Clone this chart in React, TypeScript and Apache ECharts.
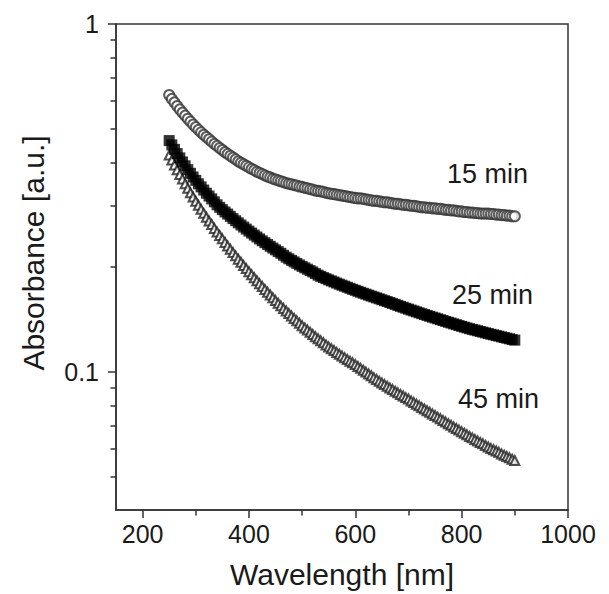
import React, { useEffect, useRef } from "react";
import * as echarts from "echarts";

const wavelength = [
  250, 255, 260, 265, 270, 275, 280, 285, 290, 295,
  300, 305, 310, 315, 320, 325, 330, 335, 340, 345,
  350, 355, 360, 365, 370, 375, 380, 385, 390, 395,
  400, 405, 410, 415, 420, 425, 430, 435, 440, 445,
  450, 455, 460, 465, 470, 475, 480, 485, 490, 495,
  500, 505, 510, 515, 520, 525, 530, 535, 540, 545,
  550, 555, 560, 565, 570, 575, 580, 585, 590, 595,
  600, 605, 610, 615, 620, 625, 630, 635, 640, 645,
  650, 655, 660, 665, 670, 675, 680, 685, 690, 695,
  700, 705, 710, 715, 720, 725, 730, 735, 740, 745,
  750, 755, 760, 765, 770, 775, 780, 785, 790, 795,
  800, 805, 810, 815, 820, 825, 830, 835, 840, 845,
  850, 855, 860, 865, 870, 875, 880, 885, 890, 895,
  900,
];

const abs15min = [
  0.625, 0.609, 0.595, 0.581, 0.568, 0.556, 0.545, 0.534, 0.524, 0.514,
  0.505, 0.496, 0.488, 0.48, 0.473, 0.466, 0.459, 0.452, 0.446, 0.44,
  0.434, 0.428, 0.423, 0.418, 0.413, 0.408, 0.403, 0.399, 0.395, 0.391,
  0.387, 0.383, 0.38, 0.376, 0.373, 0.37, 0.367, 0.364, 0.362, 0.359,
  0.357, 0.355, 0.353, 0.351, 0.349, 0.347, 0.346, 0.344, 0.343, 0.341,
  0.34, 0.338, 0.337, 0.335, 0.334, 0.332, 0.331, 0.33, 0.329, 0.327,
  0.326, 0.325, 0.324, 0.323, 0.322, 0.321, 0.32, 0.319, 0.318, 0.317,
  0.316, 0.315, 0.315, 0.314, 0.313, 0.312, 0.311, 0.31, 0.31, 0.309,
  0.308, 0.307, 0.307, 0.306, 0.305, 0.304, 0.304, 0.303, 0.302, 0.302,
  0.301, 0.3, 0.3, 0.299, 0.298, 0.297, 0.297, 0.296, 0.296, 0.295,
  0.295, 0.294, 0.294, 0.293, 0.292, 0.292, 0.291, 0.291, 0.29, 0.289,
  0.289, 0.288, 0.288, 0.287, 0.287, 0.286, 0.286, 0.285, 0.285, 0.285,
  0.285, 0.284, 0.284, 0.283, 0.283, 0.282, 0.282, 0.281, 0.281, 0.28,
  0.28,
];

const abs25min = [
  0.462, 0.449, 0.436, 0.424, 0.412, 0.401, 0.391, 0.381, 0.372, 0.363,
  0.355, 0.347, 0.34, 0.333, 0.326, 0.32, 0.314, 0.308, 0.302, 0.297,
  0.2925, 0.288, 0.284, 0.2797, 0.2756, 0.2717, 0.268, 0.2642, 0.2606, 0.2571,
  0.2537, 0.2504, 0.2471, 0.244, 0.2409, 0.2379, 0.235, 0.2322, 0.2294, 0.2267,
  0.2241, 0.2215, 0.219, 0.2162, 0.2135, 0.2112, 0.209, 0.2069, 0.2048, 0.2028,
  0.2008, 0.1989, 0.1971, 0.1953, 0.1936, 0.1915, 0.1895, 0.188, 0.1865, 0.1851,
  0.1837, 0.1824, 0.1811, 0.1798, 0.1785, 0.1773, 0.1761, 0.1749, 0.1737, 0.1725,
  0.1714, 0.1703, 0.1692, 0.1681, 0.1671, 0.166, 0.165, 0.164, 0.163, 0.162,
  0.161, 0.16, 0.1591, 0.1581, 0.1571, 0.1561, 0.1551, 0.1541, 0.1532, 0.1522,
  0.1513, 0.1504, 0.1495, 0.1486, 0.1477, 0.1468, 0.146, 0.1451, 0.1443, 0.1435,
  0.1427, 0.1419, 0.1411, 0.1403, 0.1395, 0.1387, 0.138, 0.1372, 0.1365, 0.1357,
  0.135, 0.1343, 0.1336, 0.1329, 0.1323, 0.1317, 0.1311, 0.1305, 0.1299, 0.1293,
  0.1287, 0.1281, 0.1276, 0.127, 0.1265, 0.1259, 0.1254, 0.1248, 0.1243, 0.1237,
  0.1232,
];

const abs45min = [
  0.42, 0.406, 0.393, 0.381, 0.369, 0.358, 0.347, 0.337, 0.327, 0.318,
  0.309, 0.301, 0.293, 0.2853, 0.278, 0.2713, 0.265, 0.2583, 0.252, 0.2463,
  0.241, 0.2354, 0.23, 0.2249, 0.22, 0.2153, 0.2107, 0.2063, 0.202, 0.1979,
  0.1939, 0.19, 0.1863, 0.1826, 0.1791, 0.1757, 0.1724, 0.1692, 0.1661, 0.1631,
  0.1601, 0.1573, 0.1546, 0.152, 0.1495, 0.147, 0.1446, 0.1423, 0.14, 0.1378,
  0.1356, 0.1336, 0.1317, 0.1298, 0.1279, 0.1261, 0.1244, 0.1227, 0.1211, 0.1194,
  0.1178, 0.1164, 0.115, 0.1136, 0.1123, 0.111, 0.1097, 0.1084, 0.1072, 0.106,
  0.1048, 0.1035, 0.1022, 0.1009, 0.0997, 0.0985, 0.0973, 0.0961, 0.095, 0.0939,
  0.0928, 0.0918, 0.0908, 0.0898, 0.0888, 0.0878, 0.0869, 0.086, 0.0851, 0.0842,
  0.0834, 0.0824, 0.0815, 0.0806, 0.0798, 0.0789, 0.0781, 0.0772, 0.0764, 0.0756,
  0.0748, 0.074, 0.0732, 0.0724, 0.0716, 0.0708, 0.0701, 0.0693, 0.0686, 0.0679,
  0.0672, 0.0665, 0.0658, 0.0651, 0.0645, 0.0638, 0.0632, 0.0626, 0.062, 0.0613,
  0.0607, 0.0601, 0.0596, 0.0591, 0.0586, 0.058, 0.0575, 0.057, 0.0565, 0.056,
  0.0555,
];

const seriesNames = ["15 min", "25 min", "45 min"];
const xMajorTicks = [200, 400, 600, 800, 1000];
const xMinorTicks = [300, 500, 700, 900];
const yMajorTicks = [0.1, 1];
const yMinorTicks = [0.05, 0.06, 0.07, 0.08, 0.09, 0.2, 0.3, 0.4, 0.5, 0.6, 0.7, 0.8, 0.9];

const FONT = "'Liberation Sans', Arial, sans-serif";
const AXIS_COLOR = "#333";
const TEXT_COLOR = "#1a1a1a";

function pairs(ys: number[]) {
  return wavelength.map((x, i) => [x, ys[i]]);
}

export default function App() {
  const ref = useRef<HTMLDivElement>(null);

  useEffect(() => {
    if (!ref.current) return;
    const chart = echarts.init(ref.current, null, { renderer: "svg" });
    const lineStyle = { color: AXIS_COLOR, width: 1.5 };
    const option = {
      animation: false,
      backgroundColor: "#fff",
      grid: {
        left: 116,
        top: 24,
        right: 41,
        bottom: 82,
        show: true,
        borderColor: AXIS_COLOR,
        borderWidth: 1.5,
        backgroundColor: "transparent",
      },
      xAxis: [
        {
          type: "value",
          min: 150,
          max: 1000,
          position: "bottom",
          name: "Wavelength [nm]",
          nameLocation: "middle",
          nameGap: 49,
          nameTextStyle: { fontSize: 30, fontFamily: FONT, color: TEXT_COLOR },
          axisLine: { show: true, onZero: false, lineStyle },
          axisTick: { show: true, inside: false, length: 8, customValues: xMajorTicks, lineStyle },
          axisLabel: {
            show: true,
            customValues: xMajorTicks,
            formatter: (v: number) => String(v),
            fontSize: 25,
            fontFamily: FONT,
            color: TEXT_COLOR,
            margin: 11,
          },
          splitLine: { show: false },
        },
        {
          type: "value",
          min: 150,
          max: 1000,
          position: "bottom",
          axisLine: { show: false, onZero: false },
          axisTick: { show: true, inside: false, length: 5.5, customValues: xMinorTicks, lineStyle },
          axisLabel: { show: false },
          splitLine: { show: false },
        },
      ],
      yAxis: [
        {
          type: "log",
          logBase: 10,
          min: 0.04,
          max: 1,
          position: "left",
          name: "Absorbance [a.u.]",
          nameLocation: "middle",
          nameGap: 68,
          nameRotate: 90,
          nameTextStyle: { fontSize: 30, fontFamily: FONT, color: TEXT_COLOR, padding: [0, 0, 0, 28] },
          axisLine: { show: true, onZero: false, lineStyle },
          axisTick: { show: true, inside: false, length: 8, customValues: yMajorTicks, lineStyle },
          axisLabel: {
            show: true,
            customValues: yMajorTicks,
            formatter: (v: number) => String(v),
            fontSize: 25,
            fontFamily: FONT,
            color: TEXT_COLOR,
            margin: 17,
          },
          splitLine: { show: false },
        },
        {
          type: "log",
          logBase: 10,
          min: 0.04,
          max: 1,
          position: "left",
          axisLine: { show: false, onZero: false },
          axisTick: { show: true, inside: false, length: 5.5, customValues: yMinorTicks, lineStyle },
          axisLabel: { show: false },
          splitLine: { show: false },
        },
      ],
      series: [
        {
          name: seriesNames[2],
          type: "scatter",
          xAxisIndex: 0,
          yAxisIndex: 0,
          data: pairs(abs45min),
          symbol: "emptyTriangle",
          symbolSize: 9,
          itemStyle: { color: "#222", borderColor: "#222", borderWidth: 1 },
        },
        {
          name: seriesNames[1],
          type: "scatter",
          xAxisIndex: 0,
          yAxisIndex: 0,
          data: pairs(abs25min),
          symbol: "rect",
          symbolSize: 11,
          itemStyle: { color: "#000" },
        },
        {
          name: seriesNames[0],
          type: "scatter",
          xAxisIndex: 0,
          yAxisIndex: 0,
          data: pairs(abs15min),
          symbol: "emptyCircle",
          symbolSize: 10,
          itemStyle: { color: "#333", borderColor: "#333", borderWidth: 1 },
        },
      ],
      graphic: [
        { type: "text", left: 447, top: 160, style: { text: seriesNames[0], fontSize: 27, fontFamily: FONT, fill: TEXT_COLOR } },
        { type: "text", left: 452, top: 281, style: { text: seriesNames[1], fontSize: 27, fontFamily: FONT, fill: TEXT_COLOR } },
        { type: "text", left: 458, top: 385, style: { text: seriesNames[2], fontSize: 27, fontFamily: FONT, fill: TEXT_COLOR } },
      ],
    };
    chart.setOption(option as any);
    return () => chart.dispose();
  }, []);

  return (
    <div
      ref={ref}
      style={{ position: "fixed", left: 0, top: 0, width: 609, height: 594, background: "#fff" }}
    />
  );
}
